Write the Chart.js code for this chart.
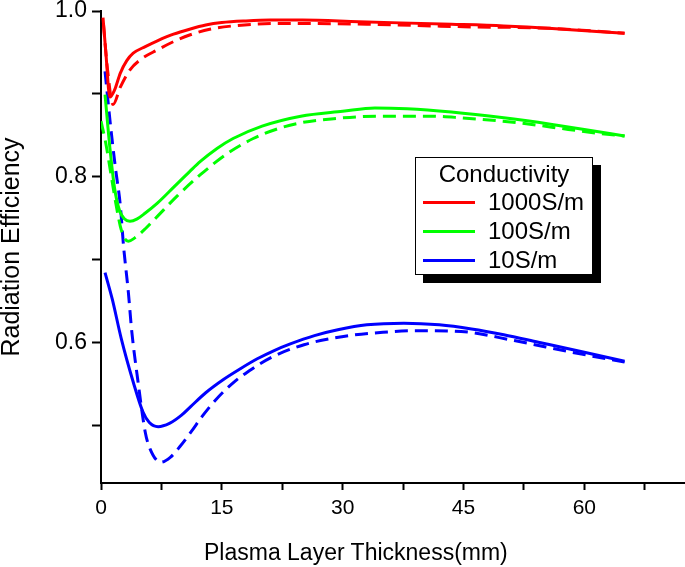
<!DOCTYPE html>
<html>
<head>
<meta charset="utf-8">
<script src="https://cdn.jsdelivr.net/npm/chart.js@4.4.1/dist/chart.umd.min.js"></script>
<style>
  body { margin: 0; background: #fff; font-family: "Liberation Sans", Arial, sans-serif; }
  #wrap { position: relative; width: 685px; height: 567px; }
  #xTitle { position: absolute; left: 204px; top: 539px; font-size: 23px; color: #000; white-space: nowrap; }
  #legend { position: absolute; left: 415px; top: 157px; width: 176px; height: 116px;
            border: 1px solid #000; background: #fff; box-shadow: 8px 8px 0 #000; overflow: hidden; }
  #legend .title { text-align: center; font-size: 24px; margin-top: 2px; line-height: 27px; }
  #legend .row { display: flex; align-items: center; height: 29px; font-size: 24px; }
  #legend .swatch { width: 52px; height: 3px; margin: 2px 13px 0 7px; }
</style>
</head>
<body>
<div id="wrap">
  <canvas id="chart" width="685" height="567"></canvas>
  <div id="xTitle">Plasma Layer Thickness(mm)</div>
  <div id="legend"></div>
</div>
<script>
// Radiation efficiency vs plasma layer thickness (mm); solid and dashed curves per conductivity
const redSolidX = [0.25, 0.6, 1.1, 1.7, 2.4, 3.2, 4, 5.5, 7, 9, 11, 13, 15, 18, 21, 25, 32, 43.5, 50, 56, 65];
const redSolidY = [0.992, 0.95, 0.896, 0.905, 0.925, 0.94, 0.949, 0.957, 0.964, 0.972, 0.978, 0.983, 0.986, 0.988, 0.989, 0.989, 0.987, 0.984, 0.982, 0.979, 0.973];
const redDashX = [0.3, 0.8, 1.5, 2.4, 3.6, 5, 7, 9, 11, 13.5, 16.4, 22, 33, 41, 45, 56, 65];
const redDashY = [0.985, 0.93, 0.887, 0.908, 0.929, 0.942, 0.953, 0.963, 0.971, 0.978, 0.982, 0.985, 0.984, 0.982, 0.981, 0.979, 0.973];

const greenSolidX = [0.5, 1.1, 1.7, 2.3, 2.9, 3.6, 4.5, 5.5, 7, 9, 11, 12.3, 14.4, 16.4, 20, 24.8, 30, 34, 38, 43.5, 50, 56, 60, 65];
const greenSolidY = [0.899, 0.835, 0.785, 0.759, 0.749, 0.746, 0.749, 0.756, 0.768, 0.787, 0.806, 0.818, 0.834, 0.846, 0.861, 0.873, 0.879, 0.883, 0.882, 0.878, 0.871, 0.863, 0.857, 0.849];
const greenDashX = [0, 0.6, 1.2, 1.8, 2.4, 2.9, 3.4, 4.2, 5.5, 7, 9.5, 12.3, 15.7, 18.9, 22, 24.8, 28.9, 34.4, 41, 44.7, 51.8, 58, 62, 65];
const greenDashY = [0.867, 0.84, 0.805, 0.77, 0.74, 0.726, 0.722, 0.726, 0.737, 0.752, 0.777, 0.802, 0.828, 0.846, 0.858, 0.865, 0.87, 0.873, 0.873, 0.871, 0.865, 0.857, 0.852, 0.849];

const blueSolidX = [0.5, 1.4, 2.5, 4, 5.2, 6, 7.1, 8.5, 10, 11.1, 13, 15.2, 17.3, 19.4, 21.5, 23.5, 26.5, 29.4, 33, 37.6, 42, 46, 50, 54.3, 60, 65];
const blueSolidY = [0.684, 0.652, 0.605, 0.552, 0.516, 0.503, 0.498, 0.502, 0.512, 0.522, 0.539, 0.555, 0.568, 0.58, 0.59, 0.598, 0.608, 0.615, 0.621, 0.623, 0.621, 0.616, 0.609, 0.6, 0.588, 0.577];
const blueDashX = [0.5, 1.2, 1.8, 2.4, 2.8, 3.4, 3.8, 4.6, 5.5, 6.1, 7.4, 8.6, 9.8, 11.2, 12.6, 14.2, 16.4, 18.8, 21.2, 25.2, 30.1, 35, 39.7, 44.7, 51.3, 58.4, 65];
const blueDashY = [0.927, 0.86, 0.81, 0.765, 0.716, 0.66, 0.615, 0.552, 0.491, 0.471, 0.455, 0.461, 0.474, 0.492, 0.511, 0.53, 0.551, 0.568, 0.582, 0.597, 0.607, 0.612, 0.614, 0.613, 0.602, 0.588, 0.576];

const legendLabels = ['1000S/m', '100S/m', '10S/m'];
const seriesColors = ['#ff0000', '#00ff00', '#0000ff'];

const xTicks = [0, 7.5, 15, 22.5, 30, 37.5, 45, 52.5, 60, 67.5];
const xTickLabels = [0, 15, 30, 45, 60];
const yTicks = [0.5, 0.6, 0.7, 0.8, 0.9, 1.0];
const yTickLabels = [0.6, 0.8, 1.0];

function pts(xs, ys) {
    return xs.map((x, i) => ({ x: x, y: ys[i] }));
}

function line(xs, ys, color, dashed) {
    return {
        data: pts(xs, ys),
        borderColor: color,
        borderWidth: 3,
        borderDash: dashed ? [13, 7] : [],
        pointRadius: 0,
        fill: false,
        cubicInterpolationMode: 'monotone'
    };
}

const datasets = [
    line(redSolidX, redSolidY, seriesColors[0], false),
    line(redDashX, redDashY, seriesColors[0], true),
    line(greenSolidX, greenSolidY, seriesColors[1], false),
    line(greenDashX, greenDashY, seriesColors[1], true),
    line(blueSolidX, blueSolidY, seriesColors[2], false),
    line(blueDashX, blueDashY, seriesColors[2], true)
];

const font = { family: '"Liberation Sans", Arial, sans-serif' };

new Chart(document.getElementById('chart'), {
    type: 'line',
    data: { datasets: datasets },
    options: {
        responsive: false,
        animation: false,
        layout: { padding: { top: 11, left: 0, right: 0, bottom: 0 } },
        plugins: { legend: { display: false }, tooltip: { enabled: false } },
        scales: {
            x: {
                type: 'linear',
                min: 0,
                max: 72.5,
                afterBuildTicks: (axis) => { axis.ticks = xTicks.map(v => ({ value: v })); },
                afterFit: (axis) => { axis.height = 84; axis.paddingLeft = 0; axis.paddingRight = 0; },
                border: { color: '#000', width: 2 },
                grid: { drawOnChartArea: false, drawTicks: true, tickLength: 7, tickColor: '#000', tickWidth: 2 },
                ticks: {
                    autoSkip: false,
                    maxRotation: 0,
                    padding: 6,
                    color: '#000',
                    font: { ...font, size: 21 },
                    callback: (v) => xTickLabels.includes(v) ? String(v) : ''
                }
            },
            y: {
                type: 'linear',
                min: 0.43,
                max: 1.0,
                afterBuildTicks: (axis) => { axis.ticks = yTicks.map(v => ({ value: v })); },
                afterFit: (axis) => { axis.width = 101; axis.paddingTop = 0; axis.paddingBottom = 0; },
                border: { color: '#000', width: 2 },
                grid: { drawOnChartArea: false, drawTicks: true, tickLength: 9, tickColor: '#000', tickWidth: 2 },
                ticks: {
                    autoSkip: false,
                    padding: 5,
                    color: '#000',
                    font: { ...font, size: 23 },
                    callback: (v) => yTickLabels.includes(v) ? v.toFixed(1) : ''
                },
                title: {
                    display: true,
                    text: 'Radiation Efficiency',
                    color: '#000',
                    padding: 0,
                    font: { ...font, size: 25, lineHeight: 1.0 }
                }
            }
        }
    }
});

// legend box with shadow
const legendEl = document.getElementById('legend');
legendEl.innerHTML = '<div class="title">Conductivity</div>' +
    legendLabels.map((lab, i) =>
        `<div class="row"><span class="swatch" style="background:${seriesColors[i]}"></span>${lab}</div>`
    ).join('');
</script>
</body>
</html>
